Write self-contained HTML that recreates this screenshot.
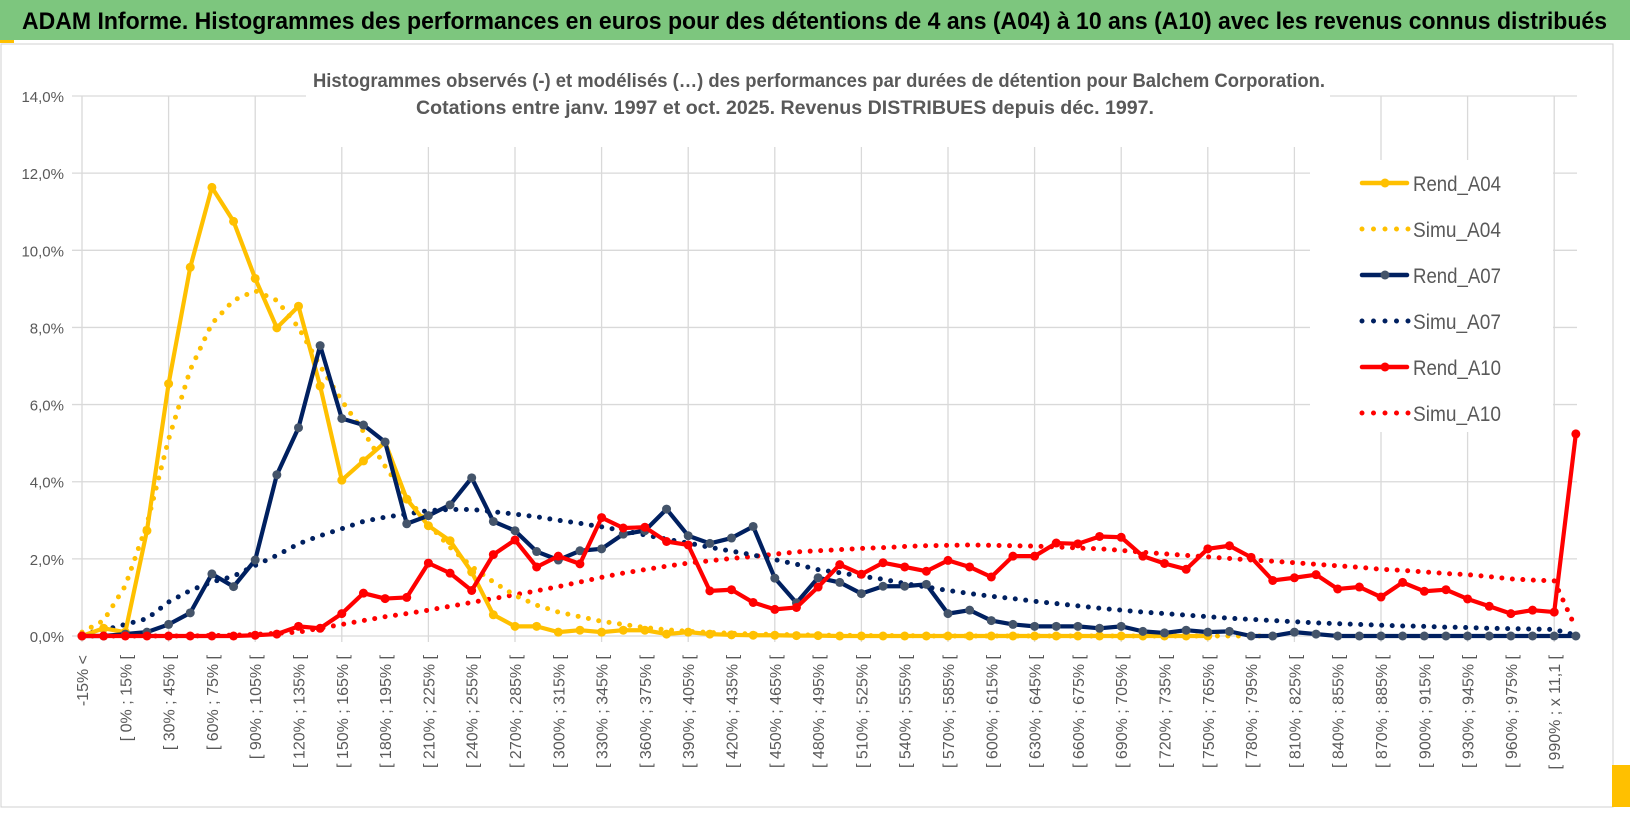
<!DOCTYPE html>
<html><head><meta charset="utf-8">
<style>
html,body{margin:0;padding:0;background:#fff;}
svg{display:block;font-family:"Liberation Sans",sans-serif;}
</style></head>
<body>
<svg id="chart" width="1630" height="815" viewBox="0 0 1630 815" xmlns="http://www.w3.org/2000/svg">
  <rect x="0" y="0" width="1630" height="815" fill="#fff"/>
  <rect x="0" y="0" width="1630" height="40" fill="#7dc67e"/>
  <rect x="0" y="40" width="14" height="3" fill="#ffc000"/>
  <text x="22" y="29" font-size="24" font-weight="bold" fill="#000" textLength="1585" lengthAdjust="spacingAndGlyphs">ADAM Informe. Histogrammes des performances en euros pour des détentions de 4 ans (A04) à 10 ans (A10) avec les revenus connus distribués</text>
  <rect x="1" y="44" width="1612" height="763" fill="none" stroke="#d0d0d0" stroke-width="1"/>
  <rect x="1612" y="765" width="18" height="42" fill="#ffc000"/>
  <g id="grid"></g>
  <rect x="306" y="58" width="1024" height="89" fill="#fff"/>
  <text x="819" y="87" font-size="19" font-weight="bold" fill="#595959" text-anchor="middle" textLength="1012" lengthAdjust="spacingAndGlyphs">Histogrammes observés (-) et modélisés (…) des performances par durées de détention pour Balchem Corporation.</text>
  <text x="785" y="114" font-size="19" font-weight="bold" fill="#595959" text-anchor="middle" textLength="738" lengthAdjust="spacingAndGlyphs">Cotations entre janv. 1997 et oct. 2025. Revenus DISTRIBUES depuis déc. 1997.</text>
  <g id="yaxis"></g>
  <g id="xaxis"></g>
  <g id="series"></g>
  <g id="legend"></g>
</svg>
<script>
const yTicks = [0,2,4,6,8,10,12,14];
const rendA04 = [0,0.2,0.1,2.73,6.54,9.56,11.63,10.75,9.27,7.99,8.55,6.48,4.04,4.54,5.02,3.55,2.86,2.47,1.66,0.55,0.25,0.25,0.1,0.15,0.1,0.15,0.15,0.05,0.1,0.05,0.03,0.02,0.02,0.01,0.01,0,0,0,0,0,0,0,0,0,0,0,0,0,0,0,0,0,0];
const simuA04 = [0.1,0.4,1.3,2.9,5.1,6.9,8.1,8.7,8.95,8.7,8.0,7.0,6.1,5.3,4.4,3.6,2.9,2.3,1.8,1.4,1.05,0.8,0.62,0.5,0.38,0.3,0.22,0.16,0.12,0.09,0.07,0.05,0.04,0.03,0.02,0.02,0.01,0.01,0.01,0,0,0,0,0,0,0,0,0,0,0,0,0,0,0,0,0];
const rendA07 = [0,0,0.05,0.1,0.3,0.6,1.61,1.28,1.97,4.18,5.40,7.53,5.64,5.47,5.03,2.91,3.12,3.40,4.10,2.97,2.73,2.19,1.97,2.21,2.26,2.64,2.73,3.29,2.60,2.40,2.54,2.84,1.50,0.86,1.51,1.39,1.10,1.29,1.29,1.34,0.58,0.67,0.4,0.3,0.25,0.25,0.25,0.2,0.25,0.12,0.08,0.15,0.1,0.12,0,0,0.1,0.05,0,0,0,0,0,0,0,0,0,0,0,0];
const simuA07 = [0.05,0.15,0.3,0.45,0.88,1.18,1.4,1.55,1.83,2.09,2.39,2.6,2.78,2.97,3.08,3.16,3.25,3.28,3.28,3.22,3.16,3.09,3.0,2.92,2.83,2.73,2.62,2.51,2.41,2.3,2.2,2.1,1.98,1.86,1.72,1.64,1.55,1.47,1.36,1.27,1.18,1.1,1.03,0.97,0.9,0.84,0.78,0.72,0.67,0.62,0.58,0.54,0.5,0.46,0.43,0.4,0.37,0.34,0.32,0.3,0.28,0.26,0.25,0.23,0.22,0.2,0.19,0.18,0.17,0.02];
const rendA10 = [0,0,0,0,0,0,0,0,0.02,0.05,0.25,0.2,0.58,1.11,0.97,1.0,1.89,1.63,1.18,2.11,2.49,1.79,2.07,1.87,3.07,2.80,2.82,2.45,2.36,1.17,1.20,0.87,0.69,0.74,1.27,1.85,1.60,1.90,1.79,1.68,1.96,1.79,1.53,2.07,2.07,2.41,2.39,2.58,2.56,2.07,1.88,1.73,2.26,2.34,2.04,1.44,1.51,1.59,1.22,1.27,1.01,1.39,1.16,1.20,0.96,0.77,0.58,0.67,0.62,5.24];
const simuA10 = [0,0,0,0,0,0,0.01,0.02,0.04,0.07,0.1,0.2,0.3,0.4,0.5,0.58,0.67,0.77,0.87,0.97,1.07,1.17,1.28,1.4,1.52,1.63,1.72,1.81,1.89,1.95,2.01,2.06,2.12,2.18,2.21,2.24,2.27,2.29,2.32,2.34,2.35,2.36,2.35,2.34,2.33,2.31,2.28,2.26,2.22,2.17,2.13,2.09,2.05,2.01,1.97,1.94,1.9,1.86,1.82,1.78,1.73,1.7,1.66,1.62,1.59,1.54,1.48,1.45,1.43,0.2];
const nCats = 70;
const legendNames = ["Rend_A04","Simu_A04","Rend_A07","Simu_A07","Rend_A10","Simu_A10"];

const NS = "http://www.w3.org/2000/svg";
const X0 = 82, DX = 21.65, Y0 = 636, YPX = 38.57;
function xs(i){ return X0 + i*DX; }
function ys(v){ return Y0 - v*YPX; }
function catLabel(i){
  if(i===0) return "-15% <";
  if(i===68) return "[ 990% ; x 11,1 [";
  const a = 30*(i/2-1);
  return "[ " + a + "% ; " + (a+15) + "% [";
}
function mk(tag, attrs, parent){
  const e = document.createElementNS(NS, tag);
  for(const k in attrs) e.setAttribute(k, attrs[k]);
  parent.appendChild(e); return e;
}
const grid = document.getElementById('grid');
yTicks.forEach(t=>{
  const l = mk('line',{x1:72,x2:1577,y1:ys(t),y2:ys(t),stroke:'#d9d9d9','stroke-width':1.3},grid);
  
  
});
for(let i=0;i<nCats;i+=4){
  const l = mk('line',{x1:xs(i),x2:xs(i),y1:ys(14),y2:ys(0)+6,stroke:'#d9d9d9','stroke-width':1.3},grid);
  
  
}
const yax = document.getElementById('yaxis');
yTicks.forEach(t=>{
  const tx = mk('text',{x:64,y:ys(t)+6,'font-size':15,fill:'#595959','text-anchor':'end'},yax);
  tx.textContent = t.toFixed(1).replace('.',',')+'%';
  
  
});
const xax = document.getElementById('xaxis');
for(let i=0;i<nCats;i++){
  if(i===1 || i%2===1) continue;
  const x = xs(i)+6, y = 655;
  const tx = mk('text',{x:x,y:y,'font-size':16,fill:'#595959','text-anchor':'end',transform:`rotate(-90 ${x} ${y})`},xax);
  tx.textContent = catLabel(i);
  
  
}
const ser = document.getElementById('series');
function pts(arr){ return arr.map((v,i)=>xs(i)+','+ys(v)).join(' '); }
function dotted(arr,color,name){
  const p = mk('polyline',{points:pts(arr),fill:'none',stroke:color,'stroke-width':5,'stroke-linecap':'round','stroke-dasharray':'0 10.5'},ser);
  
  
}
function solid(arr,color,mcolor,name){
  const p = mk('polyline',{points:pts(arr),fill:'none',stroke:color,'stroke-width':4.2,'stroke-linejoin':'round'},ser);
  
  
  arr.forEach((v,i)=>{
    const c = mk('circle',{cx:xs(i),cy:ys(v),r:4.5,fill:mcolor},ser);
    
    
  });
}
dotted(simuA10,'#ff0000','simu-a10-line');
dotted(simuA07,'#002060','simu-a07-line');
dotted(simuA04,'#ffc000','simu-a04-line');
solid(rendA04,'#ffc000','#ffc000','rend-a04-line');
solid(rendA07,'#002060','#44546a','rend-a07-line');
solid(rendA10,'#ff0000','#ff0000','rend-a10-line');

const leg = document.getElementById('legend');
const bg = mk('rect',{x:1310,y:160,width:243,height:272,fill:'#fff'},leg);


const legColors = ['#ffc000','#ffc000','#002060','#002060','#ff0000','#ff0000'];
const legMark = ['#ffc000',null,'#44546a',null,'#ff0000',null];
legendNames.forEach((n,k)=>{
  const y = 183 + k*46;
  const g = mk('g',{},leg);
  
  
  if(k%2===0){
    mk('line',{x1:1362,x2:1407,y1:y,y2:y,stroke:legColors[k],'stroke-width':4.5,'stroke-linecap':'round'},g);
    mk('circle',{cx:1385,cy:y,r:4.5,fill:legMark[k]},g);
  } else {
    mk('line',{x1:1362,x2:1410,y1:y,y2:y,stroke:legColors[k],'stroke-width':5,'stroke-linecap':'round','stroke-dasharray':'0 11.5'},g);
  }
  const t = mk('text',{x:1413,y:y+8,'font-size':21,fill:'#595959',textLength:88,lengthAdjust:'spacingAndGlyphs'},g);
  t.textContent = n;
});
</script>
</body></html>
